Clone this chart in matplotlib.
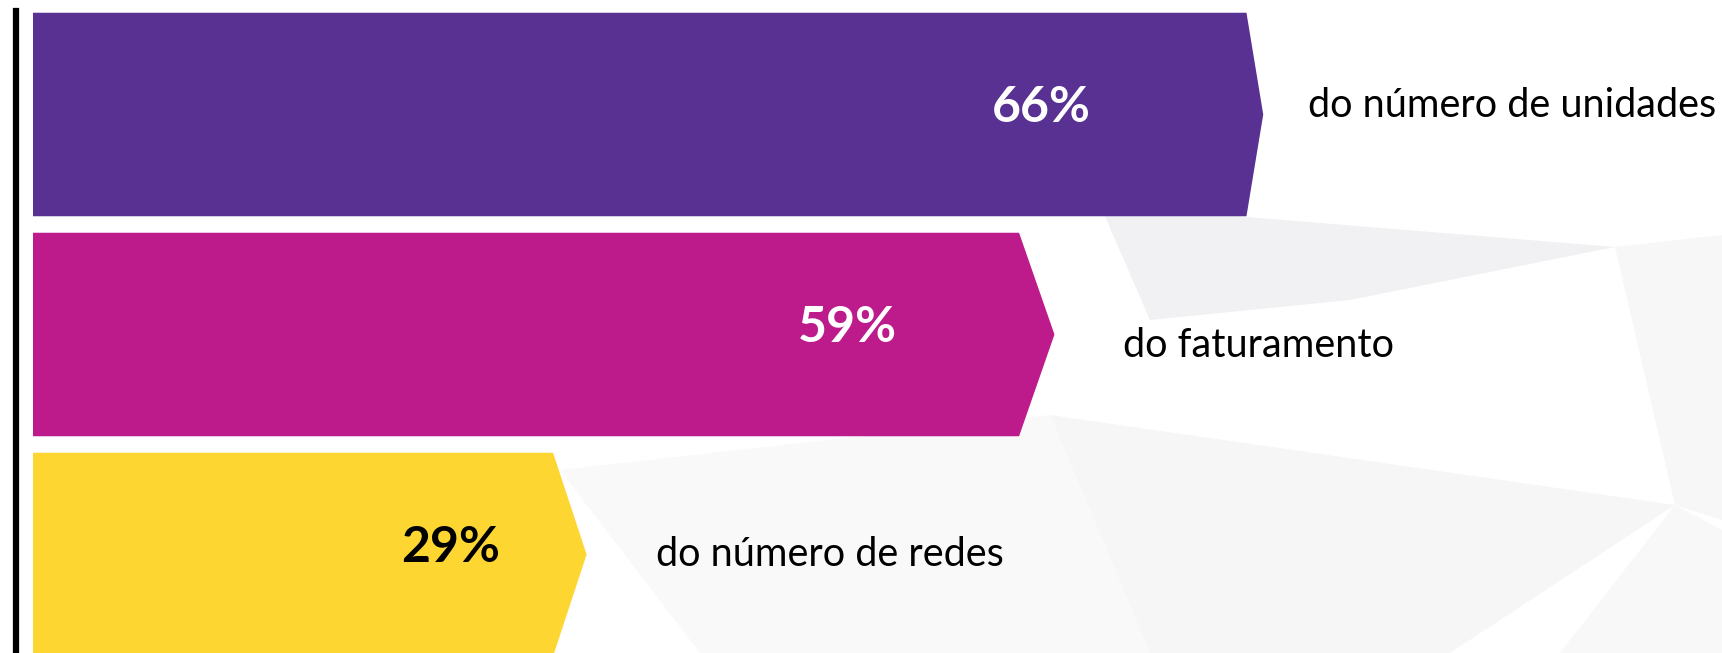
import matplotlib
matplotlib.use("Agg")
import matplotlib.pyplot as plt
from matplotlib.patches import Polygon

# ---- data ----
categories = ["do número de unidades", "do faturamento", "do número de redes"]
values = [66, 59, 29]                      # labels shown on the bars (%)
bar_lengths = [66.0, 54.8, 29.7]           # drawn length of each arrow (tip)
value_labels = ["66%", "59%", "29%"]

# ---- style ----
colors = ["#583192", "#BD1A8C", "#FDD632"]
label_colors = ["white", "white", "black"]
tip_depth = [0.9, 1.9, 1.8]
bar_h = 0.925
label_x = [54.1, 43.7, 22.4]
cat_x = [68.4, 58.5, 33.4]
cat_dy = [-0.04, 0.05, 0.0]

plt.rcParams['font.family'] = ['Lato', 'DejaVu Sans']

W, H = 1722, 653
fig = plt.figure(figsize=(W / 100, H / 100), dpi=100)
fig.patch.set_facecolor("white")

# subtle low-poly background in figure pixel coords
bg = fig.add_axes([0, 0, 1, 1])
bg.set_xlim(0, W)
bg.set_ylim(H, 0)
bg.axis("off")
polys = [
    ([(1100, 205), (1615, 247), (1350, 300), (1150, 320)], "#f1f1f3"),
    ([(1050, 415), (1675, 505), (1450, 653), (1150, 653)], "#f6f6f7"),
    ([(1615, 247), (1722, 235), (1722, 520), (1675, 505)], "#f7f7f8"),
    ([(1675, 505), (1722, 530), (1722, 653), (1560, 653)], "#f8f8f9"),
    ([(560, 470), (1050, 415), (1150, 653), (700, 653)], "#f9f9fa"),
]
for pts, c in polys:
    bg.add_patch(Polygon(pts, closed=True, facecolor=c, edgecolor="none"))

ax = fig.add_axes([0, 0, 1, 1])
ax.patch.set_alpha(0)
px = 18.64
x0 = 33
ax.set_xlim(-x0 / px, (W - x0) / px)
ax.set_ylim((H - 114.5) / 220.0, -114.5 / 220.0)
ax.axis("off")

for i, (L, t, c) in enumerate(zip(bar_lengths, tip_depth, colors)):
    top, bot = i - bar_h / 2, i + bar_h / 2
    pts = [(0, top), (L - t, top), (L, i), (L - t, bot), (0, bot)]
    ax.add_patch(Polygon(pts, closed=True, facecolor=c, edgecolor="none"))
    ax.text(label_x[i], i - 0.03, value_labels[i], color=label_colors[i],
            fontsize=36, fontweight="bold", ha="center", va="center")
    ax.text(cat_x[i], i + cat_dy[i], categories[i], color="black",
            fontsize=28.5, ha="left", va="center")

# vertical black axis line
ax.axvline(-0.91, ymin=0, ymax=1 - 11 / H, color="black", linewidth=4.5)

fig.savefig("out.png", dpi=100, facecolor="white")
